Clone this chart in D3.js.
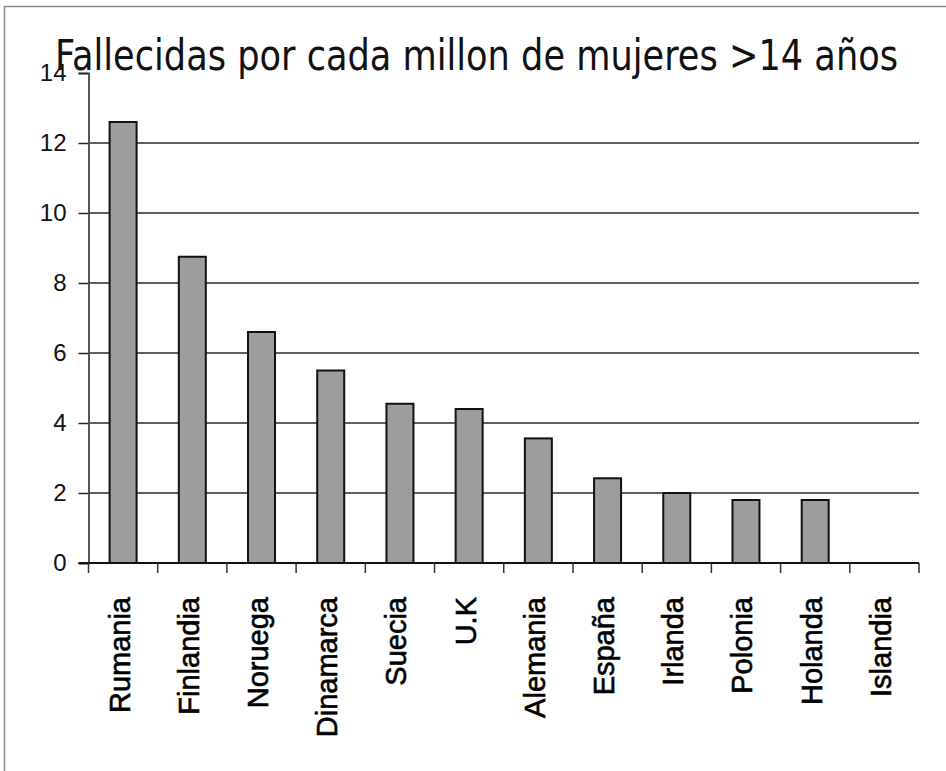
<!DOCTYPE html>
<html>
<head>
<meta charset="utf-8">
<script src="https://cdn.jsdelivr.net/npm/d3@7"></script>
<style>
  html, body { margin: 0; padding: 0; background: #fff; }
  svg { display: block; }
</style>
</head>
<body>
<script>
// Female deaths per million women over 14, by country
const titleText = "Fallecidas por cada millon de mujeres >14 años";
const countries = ["Rumania", "Finlandia", "Noruega", "Dinamarca", "Suecia", "U.K", "Alemania", "España", "Irlanda", "Polonia", "Holanda", "Islandia"];
const deathsPerMillion = [12.6, 8.75, 6.6, 5.5, 4.55, 4.4, 3.56, 2.42, 2.0, 1.8, 1.8, 0];
const yTicks = [0, 2, 4, 6, 8, 10, 12, 14];

const W = 946, H = 771;
const svg = d3.select("body").append("svg").attr("width", W).attr("height", H);

svg.append("rect").attr("width", W).attr("height", H).attr("fill", "#fff");

// outer frame (runs off the right and bottom edges)
svg.append("rect")
  .attr("x", 4.5).attr("y", 6.5)
  .attr("width", W + 20).attr("height", H + 20)
  .attr("fill", "none").attr("stroke", "#8a8a8a").attr("stroke-width", 1.5);

const plotLeft = 88.5, plotRight = 919, plotTop = 73, plotBottom = 563;

const x = d3.scaleBand()
  .domain(countries)
  .range([plotLeft, plotRight])
  .paddingInner(0.61)
  .paddingOuter(0.305);

const y = d3.scaleLinear().domain([0, 14]).range([plotBottom, plotTop]);

// horizontal gridlines
svg.append("g")
  .selectAll("line")
  .data(yTicks.filter(t => t > 0 && t < 14))
  .join("line")
  .attr("x1", plotLeft).attr("x2", plotRight)
  .attr("y1", d => y(d)).attr("y2", d => y(d))
  .attr("stroke", "#2a2a2a").attr("stroke-width", 1.5);

// y axis
const yAxis = d3.axisLeft(y).tickValues(yTicks).tickSize(10).tickPadding(12).tickFormat(d3.format("d"));
const gy = svg.append("g").attr("transform", `translate(${plotLeft},0)`).call(yAxis);
gy.select(".domain").attr("stroke", "#555").attr("stroke-width", 2);
gy.selectAll(".tick line").attr("stroke", "#222").attr("stroke-width", 1.5);
gy.selectAll(".tick text")
  .attr("font-family", "'Liberation Sans', Arial, sans-serif")
  .attr("font-size", 24)
  .attr("fill", "#111");

// bars
svg.append("g")
  .selectAll("rect")
  .data(countries.map((c, i) => ({ c, v: deathsPerMillion[i] })).filter(d => d.v > 0))
  .join("rect")
  .attr("x", d => x(d.c))
  .attr("y", d => y(d.v))
  .attr("width", x.bandwidth())
  .attr("height", d => y(0) - y(d.v))
  .attr("fill", "#9d9d9d")
  .attr("stroke", "#111")
  .attr("stroke-width", 2);

// x axis line and category boundary ticks
const step = x.step();
const bounds = countries.map(c => x(c) - step * x.paddingInner() / 2);
bounds.push(plotRight);
const gx = svg.append("g");
gx.append("line")
  .attr("x1", plotLeft - 10).attr("x2", plotRight)
  .attr("y1", plotBottom).attr("y2", plotBottom)
  .attr("stroke", "#111").attr("stroke-width", 2);
gx.selectAll("line.tk")
  .data(bounds)
  .join("line").attr("class", "tk")
  .attr("x1", d => d).attr("x2", d => d)
  .attr("y1", plotBottom).attr("y2", plotBottom + 10)
  .attr("stroke", "#333").attr("stroke-width", 1.5);

// rotated category labels
gx.selectAll("text")
  .data(countries)
  .join("text")
  .attr("transform", d => `translate(${x(d) + x.bandwidth() / 2 - 4},597) rotate(-90)`)
  .attr("text-anchor", "end")
  .attr("dy", "0.36em")
  .attr("font-family", "'Liberation Sans', Arial, sans-serif")
  .attr("font-size", 29)
  .attr("fill", "#000")
  .attr("stroke", "#000").attr("stroke-width", 0.6)
  .text(d => d);

// title
svg.append("text")
  .attr("x", 55).attr("y", 70)
  .attr("font-family", "'DejaVu Sans', Verdana, sans-serif")
  .attr("font-size", 42)
  .attr("textLength", 843)
  .attr("lengthAdjust", "spacingAndGlyphs")
  .attr("fill", "#111")
  .text(titleText);
</script>
</body>
</html>
